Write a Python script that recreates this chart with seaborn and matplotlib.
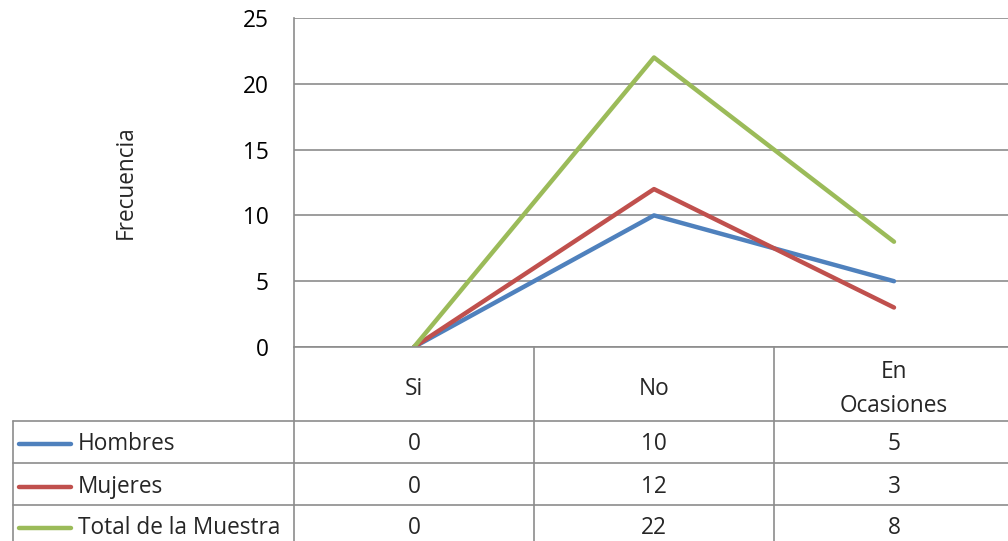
import pandas as pd
import seaborn as sns
import matplotlib.pyplot as plt
from matplotlib.transforms import blended_transform_factory

# Data
categorias = ['Si', 'No', 'En\nOcasiones']
series = ['Hombres', 'Mujeres', 'Total de la Muestra']
hombres = [0, 10, 5]
mujeres = [0, 12, 3]
total = [0, 22, 8]
colores = ['#4F81BD', '#C0504D', '#9BBB59']

df = pd.DataFrame({
    'categoria': categorias * 3,
    'serie': [s for s in series for _ in categorias],
    'valor': hombres + mujeres + total,
})

sns.set_style('white')
plt.rcParams['font.family'] = ['Open Sans', 'DejaVu Sans']
fs = 16.3

W, H = 1008, 541
fig = plt.figure(figsize=(W / 100, H / 100), dpi=100)
# plot area in pixel terms: left 294, right 1014, top 18, bottom 347
ax = fig.add_axes([294 / W, 1 - 347 / H, 720 / W, (347 - 18) / H])

sns.lineplot(data=df, x='categoria', y='valor', hue='serie', hue_order=series,
             palette=colores, linewidth=3.2, sort=False, legend=False, ax=ax)

grid = '#8c8c8c'
ax.set_xlim(-0.5, 2.5)
ax.set_ylim(0, 25)
ax.set_yticks([0, 5, 10, 15, 20, 25])
ax.yaxis.grid(True, color=grid, linewidth=1.2)
ax.set_axisbelow(True)
ax.tick_params(axis='y', labelsize=fs, length=0, pad=18, colors='black')
ax.set_xticks([])
ax.set_xlabel('')
ax.set_ylabel('Frecuencia', fontsize=fs)
ax.yaxis.set_label_coords(-156 / 720, 0.5)
for s in ['top', 'right', 'bottom']:
    ax.spines[s].set_visible(False)
ax.spines['left'].set_color(grid)
ax.spines['left'].set_linewidth(1.2)

# data table below the plot (x in data units, y in figure fraction)
tr = blended_transform_factory(ax.transData, fig.transFigure)
def fy(p):
    return 1 - p / H

x_left = -0.5 - 281 / 240
line_kw = dict(color=grid, linewidth=1.2, transform=tr, clip_on=False)
for yp, x0 in [(347, -0.5), (421, x_left), (463, x_left), (505, x_left)]:
    ax.plot([x0, 2.5], [fy(yp), fy(yp)], **line_kw)
ax.plot([x_left, x_left], [fy(421), fy(545)], **line_kw)
ax.plot([-0.5, -0.5], [fy(347), fy(545)], **line_kw)
for xb in [0.5, 1.5]:
    ax.plot([xb, xb], [fy(347), fy(545)], **line_kw)

for i, c in enumerate(categorias):
    ax.text(i, fy(389), c, transform=tr, ha='center', va='center',
            fontsize=fs, linespacing=1.55)

row_y = [444, 487, 528]
valores = [hombres, mujeres, total]
for r, (nombre, vals, col) in enumerate(zip(series, valores, colores)):
    y = fy(row_y[r])
    ax.plot([x_left + 6 / 240, x_left + 58 / 240], [y, y], color=col,
            linewidth=3.2, solid_capstyle='round', transform=tr, clip_on=False)
    ax.text(x_left + 65 / 240, y, nombre, transform=tr, ha='left',
            va='center', fontsize=fs)
    for i, v in enumerate(vals):
        ax.text(i, y, str(v), transform=tr, ha='center', va='center', fontsize=fs)

fig.savefig('out.png', dpi=100)
